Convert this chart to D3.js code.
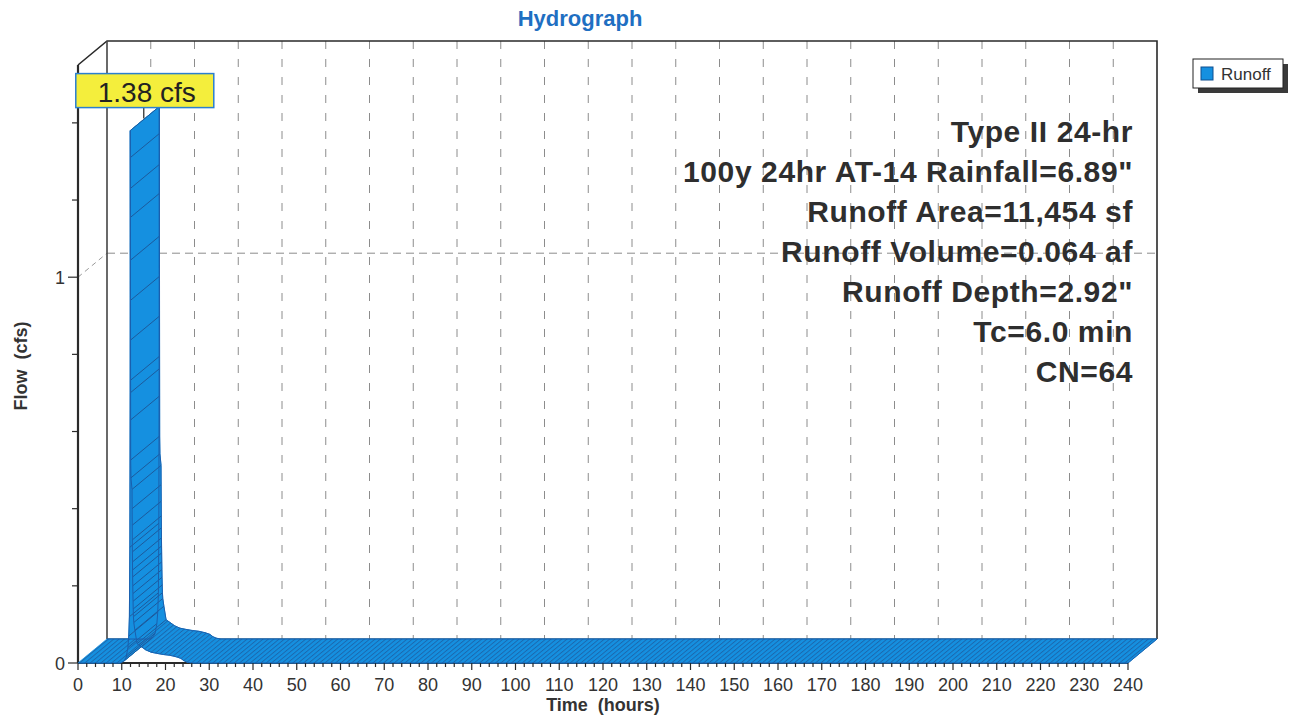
<!DOCTYPE html>
<html>
<head>
<meta charset="utf-8">
<script src="https://cdn.jsdelivr.net/npm/d3@7"></script>
<style>
  html, body { margin: 0; padding: 0; background: #fff; }
  svg { display: block; font-family: "Liberation Sans", Arial, sans-serif; }
</style>
</head>
<body>
<svg id="chart" width="1294" height="715"></svg>
<script>
// Runoff hydrograph (hours, cfs)
const hours = [0, 9.6, 10.5, 11.0, 11.4, 11.6, 11.75, 11.85, 11.92, 11.95,
  11.96, 11.97, 11.98, 11.99, 12.00, 12.01, 12.02, 12.03, 12.04, 12.10,
  12.35, 12.37, 12.39, 12.41, 12.43, 12.45, 12.47, 12.49, 12.52, 12.55,
  12.58, 12.62, 12.67, 12.75, 13.0, 13.5, 14.5, 15.5, 16.7, 18.0,
  19.5, 21.0, 22.5, 23.5, 24.2, 25.0, 26.0, 240];
const flow = [0, 0, 0.005, 0.015, 0.04, 0.07, 0.12, 0.3, 0.7, 1.38,
  1.31, 1.23, 1.155, 1.044, 0.94, 0.837, 0.733, 0.63, 0.526, 0.48,
  0.45, 0.40, 0.357, 0.319, 0.288, 0.262, 0.241, 0.223, 0.20, 0.18,
  0.16, 0.14, 0.12, 0.105, 0.085, 0.05, 0.042, 0.034, 0.028, 0.025,
  0.022, 0.02, 0.016, 0.012, 0.006, 0.002, 0, 0];

const timeTicks = [0, 10, 20, 30, 40, 50, 60, 70, 80, 90, 100, 110, 120, 130, 140,
  150, 160, 170, 180, 190, 200, 210, 220, 230, 240];
const flowTicks = [0, 1];
const flowMinorTicks = [0, 0.2, 0.4, 0.6, 0.8, 1.0, 1.2, 1.4];
const seriesName = "Runoff";
const chartTitle = "Hydrograph";
const infoLines = [
  "Type II 24-hr",
  "100y 24hr AT-14 Rainfall=6.89\"",
  "Runoff Area=11,454 sf",
  "Runoff Volume=0.064 af",
  "Runoff Depth=2.92\"",
  "Tc=6.0 min",
  "CN=64"
];

const svg = d3.select("#chart");
const fillBlue = "#1590e0";
const edgeBlue = "#1a5fae";
const ink = "#333";

// 3-D box: front plane scales plus a depth offset to the back wall
const x = d3.scaleLinear().domain([0, 240]).range([78, 1128]);
const y = d3.scaleLinear().domain([0, 1.55]).range([663, 65]);
const dx = 29, dy = -24;

// hatch pattern running along the depth direction
const ang = Math.atan2(-dy, dx) * 180 / Math.PI;
const defs = svg.append("defs");
const pat = defs.append("pattern")
  .attr("id", "hatch")
  .attr("patternUnits", "userSpaceOnUse")
  .attr("width", 20).attr("height", 3.4)
  .attr("patternTransform", `rotate(${-ang})`);
pat.append("line")
  .attr("x1", 0).attr("x2", 20).attr("y1", 0.5).attr("y2", 0.5)
  .attr("stroke", "#1d5a9c").attr("stroke-width", 0.9).attr("stroke-opacity", 0.8);

// ---- back wall grid ----
const plotTop = y.range()[1];
const grid = svg.append("g");
timeTicks.forEach(t => {
  if (t === 0 || t === 240) return;
  grid.append("line")
    .attr("x1", x(t) + dx).attr("x2", x(t) + dx)
    .attr("y1", plotTop + dy).attr("y2", y(0) + dy)
    .attr("stroke", "#8c8c8c").attr("stroke-width", 1)
    .attr("stroke-dasharray", "8,10");
});
grid.append("line")
  .attr("x1", x(0) + dx).attr("x2", x(240) + dx)
  .attr("y1", y(1) + dy).attr("y2", y(1) + dy)
  .attr("stroke", "#8c8c8c").attr("stroke-width", 1).attr("stroke-dasharray", "8,5");
grid.append("line")
  .attr("x1", x(0)).attr("x2", x(0) + dx)
  .attr("y1", y(1)).attr("y2", y(1) + dy)
  .attr("stroke", "#9a9a9a").attr("stroke-width", 1).attr("stroke-dasharray", "5,4");

// ---- frame ----
const frame = svg.append("g").attr("fill", "none").attr("stroke", "#2a2a2a");
frame.append("path")
  .attr("d", `M${x(0)},${plotTop} L${x(0) + dx},${plotTop + dy} L${x(240) + dx},${plotTop + dy} L${x(240) + dx},${y(0) + dy}`)
  .attr("stroke-width", 1.6);
frame.append("line")
  .attr("x1", x(0) + dx).attr("x2", x(0) + dx)
  .attr("y1", plotTop + dy).attr("y2", y(0) + dy)
  .attr("stroke", "#444").attr("stroke-width", 1.6);
frame.append("line")
  .attr("x1", x(0) + dx).attr("x2", x(240) + dx)
  .attr("y1", y(0) + dy).attr("y2", y(0) + dy)
  .attr("stroke-width", 1.2);
frame.append("line")
  .attr("x1", x(0)).attr("x2", x(0))
  .attr("y1", plotTop).attr("y2", y(0))
  .attr("stroke-width", 2.2);
frame.append("line")
  .attr("x1", x(0)).attr("x2", x(240))
  .attr("y1", y(0)).attr("y2", y(0))
  .attr("stroke-width", 2.2);

// ---- ribbon ----
const pts = hours.map((h, i) => [x(h), y(flow[i])]);
const faces = [];
for (let i = 0; i < pts.length - 1; i++) {
  const a = pts[i], b = pts[i + 1];
  const steep = Math.abs(b[1] - a[1]) > Math.abs(b[0] - a[0]) * 1.5;
  faces.push({ poly: [a, b, [b[0] + dx, b[1] + dy], [a[0] + dx, a[1] + dy]], steep });
}
const rib = svg.append("g");
const line = d3.line();
rib.selectAll("path.face").data(faces).join("path")
  .attr("class", "face")
  .attr("d", d => line(d.poly) + "Z")
  .attr("fill", fillBlue).attr("stroke", fillBlue).attr("stroke-width", 0.8);
rib.selectAll("path.hatch").data(faces.filter(f => !f.steep)).join("path")
  .attr("class", "hatch")
  .attr("d", d => line(d.poly) + "Z")
  .attr("fill", "url(#hatch)");
// depth edges at the samples on the steep peak
const steepIdx = hours.map((h, i) => i).filter(i =>
  (faces[i] && faces[i].steep) || (faces[i - 1] && faces[i - 1].steep));
rib.selectAll("line.edge").data(steepIdx).join("line")
  .attr("class", "edge")
  .attr("x1", i => pts[i][0]).attr("y1", i => pts[i][1])
  .attr("x2", i => pts[i][0] + dx).attr("y2", i => pts[i][1] + dy)
  .attr("stroke", "#1d5a9c").attr("stroke-width", 1);
rib.append("path")
  .attr("d", line(pts))
  .attr("fill", "none").attr("stroke", edgeBlue).attr("stroke-width", 1);
rib.append("path")
  .attr("d", line(pts.map(p => [p[0] + dx, p[1] + dy])))
  .attr("fill", "none").attr("stroke", edgeBlue).attr("stroke-width", 1);
// right end of the ribbon
const last = pts[pts.length - 1];
rib.append("line")
  .attr("x1", last[0]).attr("y1", last[1]).attr("x2", last[0] + dx).attr("y2", last[1] + dy)
  .attr("stroke", edgeBlue).attr("stroke-width", 1);

// ---- axes ----
const axes = svg.append("g").attr("fill", ink).attr("font-size", 18);
d3.range(0, 241, 2).forEach(t => {
  const major = t % 10 === 0;
  axes.append("line")
    .attr("x1", x(t)).attr("x2", x(t))
    .attr("y1", y(0)).attr("y2", y(0) + (major ? 7 : 4))
    .attr("stroke", "#2a2a2a").attr("stroke-width", 1.2);
});
axes.selectAll("text.xt").data(timeTicks).join("text")
  .attr("class", "xt")
  .attr("x", d => x(d)).attr("y", 691)
  .attr("text-anchor", "middle")
  .text(d => d);
flowMinorTicks.forEach(v => {
  const major = flowTicks.includes(v);
  axes.append("line")
    .attr("x1", x(0) - (major ? 10 : 6)).attr("x2", x(0))
    .attr("y1", y(v)).attr("y2", y(v))
    .attr("stroke", "#2a2a2a").attr("stroke-width", 1.2);
});
axes.selectAll("text.yt").data(flowTicks).join("text")
  .attr("class", "yt")
  .attr("x", x(0) - 13).attr("y", d => y(d) + 6.5)
  .attr("text-anchor", "end")
  .text(d => d);
axes.append("text")
  .attr("x", (x(0) + x(240)) / 2).attr("y", 711)
  .attr("text-anchor", "middle").attr("font-weight", "bold")
  .style("white-space", "pre")
  .text("Time  (hours)");
axes.append("text")
  .attr("transform", "translate(27,366) rotate(-90)")
  .attr("text-anchor", "middle").attr("font-weight", "bold")
  .style("white-space", "pre")
  .text("Flow  (cfs)");

// ---- title ----
svg.append("text")
  .attr("x", 580).attr("y", 26)
  .attr("text-anchor", "middle")
  .attr("font-size", 22).attr("font-weight", "bold")
  .attr("fill", "#1f6fc2")
  .text(chartTitle);

// ---- summary text ----
svg.append("g").selectAll("text").data(infoLines).join("text")
  .attr("x", 1133).attr("y", (d, i) => 142 + i * 40)
  .attr("text-anchor", "end")
  .attr("font-size", 30).attr("font-weight", "bold")
  .attr("letter-spacing", 0.6)
  .attr("fill", "#2e2e2e")
  .text(d => d);

// ---- peak label ----
const peakI = d3.maxIndex(flow);
const peakX = pts[peakI][0] + dx / 2, peakY = pts[peakI][1] + dy / 2;
const lab = svg.append("g");
lab.append("line")
  .attr("x1", peakX - 1).attr("x2", peakX - 1)
  .attr("y1", peakY).attr("y2", peakY - 12)
  .attr("stroke", "#222").attr("stroke-width", 1.2);
lab.append("rect")
  .attr("x", peakX - 69).attr("y", peakY - 45)
  .attr("width", 138).attr("height", 34)
  .attr("fill", "#f4ee3c").attr("stroke", "#2b7fd0").attr("stroke-width", 1.5);
lab.append("text")
  .attr("x", peakX + 2).attr("y", peakY - 17)
  .attr("text-anchor", "middle")
  .attr("font-size", 28).attr("fill", "#222")
  .text(`${d3.max(flow).toFixed(2)} cfs`);

// ---- legend ----
const leg = svg.append("g");
leg.append("rect").attr("x", 1198).attr("y", 64).attr("width", 90).attr("height", 29).attr("fill", "#3a3a3a");
leg.append("rect").attr("x", 1193).attr("y", 59).attr("width", 90).attr("height", 29)
  .attr("fill", "#fff").attr("stroke", "#222").attr("stroke-width", 1);
leg.append("rect").attr("x", 1201).attr("y", 67).attr("width", 12).attr("height", 13)
  .attr("fill", fillBlue).attr("stroke", "#0f4f90").attr("stroke-width", 1);
leg.append("text").attr("x", 1221).attr("y", 80)
  .attr("font-size", 17).attr("fill", ink).text(seriesName);
</script>
</body>
</html>
